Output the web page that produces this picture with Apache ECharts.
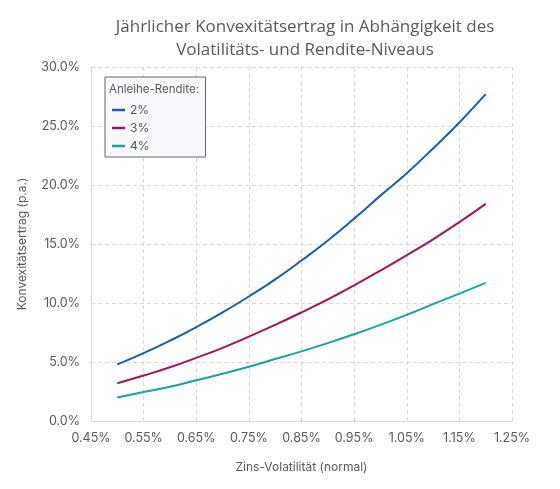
<!DOCTYPE html>
<html>
<head>
<meta charset="utf-8">
<script src="https://cdn.jsdelivr.net/npm/echarts@6/dist/echarts.min.js"></script>
<style>
  html, body { margin: 0; padding: 0; background: #fff; }
  #chart { width: 560px; height: 489px; }
</style>
</head>
<body>
<div id="chart"></div>
<script>
// Zins-Volatilität (normal), in %
const volatility = [0.50, 0.55, 0.60, 0.65, 0.70, 0.75, 0.80, 0.85, 0.90, 0.95, 1.00, 1.05, 1.10, 1.15, 1.20];

// Konvexitätsertrag (p.a.) in %, je Anleihe-Rendite
const seriesNames = ['2%', '3%', '4%'];
const yield2 = [4.8, 5.75, 6.8, 7.95, 9.2, 10.55, 12.0, 13.6, 15.3, 17.15, 19.1, 21.0, 23.1, 25.3, 27.7];
const yield3 = [3.2, 3.85, 4.55, 5.35, 6.2, 7.15, 8.15, 9.2, 10.3, 11.5, 12.75, 14.05, 15.4, 16.85, 18.4];
const yield4 = [2.0, 2.45, 2.9, 3.45, 4.0, 4.6, 5.25, 5.9, 6.6, 7.35, 8.15, 9.0, 9.9, 10.8, 11.7];

const colors = ['#1A5EA6', '#A6125C', '#18A3A3'];
const textColor = '#595959';
const gridColor = '#D9D9D9';

const chart = echarts.init(document.getElementById('chart'), null, { renderer: 'canvas' });

const toPairs = (vals) => volatility.map((x, i) => [x, vals[i]]);

chart.setOption({
  animation: false,
  backgroundColor: '#fff',
  title: [
    {
      text: 'Jährlicher Konvexitätsertrag in Abhängigkeit des\nVolatilitäts- und Rendite-Niveaus',
      left: 300,
      top: 11,
      textAlign: 'center',
      textStyle: {
        fontFamily: 'Open Sans',
        fontSize: 17,
        fontWeight: 'normal',
        color: textColor,
        lineHeight: 23
      }
    },
    {
      text: 'Anleihe-Rendite:',
      left: 109,
      top: 84,
      z: 10,
      padding: 0,
      textStyle: { fontFamily: 'Inter', fontSize: 11.5, fontWeight: 'normal', color: textColor }
    }
  ],
  legend: {
    orient: 'vertical',
    left: 105,
    top: 77,
    padding: [27, 56, 5, 7],
    itemGap: 6,
    itemWidth: 13,
    itemHeight: 2.5,
    icon: 'rect',
    backgroundColor: '#F7F9FC',
    borderColor: '#666',
    borderWidth: 1,
    textStyle: { fontFamily: 'Inter', fontSize: 12, color: textColor },
    data: seriesNames
  },
  grid: { left: 91, right: 48, top: 67, bottom: 68 },
  xAxis: {
    type: 'value',
    min: 0.45,
    max: 1.25,
    interval: 0.1,
    name: 'Zins-Volatilität (normal)',
    nameLocation: 'middle',
    nameGap: 40,
    nameTextStyle: { fontFamily: 'Inter', fontSize: 12, color: textColor },
    axisLine: { show: true, lineStyle: { color: gridColor, width: 1 } },
    axisTick: { show: false },
    axisLabel: {
      fontFamily: 'Inter', fontSize: 12.5, color: textColor, margin: 11,
      formatter: (v) => v.toFixed(2) + '%'
    },
    splitLine: { show: true, lineStyle: { color: gridColor, type: [4, 3] } }
  },
  yAxis: {
    type: 'value',
    min: 0,
    max: 30,
    interval: 5,
    name: 'Konvexitätsertrag (p.a.)',
    nameLocation: 'middle',
    nameGap: 63,
    nameTextStyle: { fontFamily: 'Inter', fontSize: 12, color: textColor },
    axisLine: { show: true, lineStyle: { color: gridColor, width: 1 } },
    axisTick: { show: false },
    axisLabel: {
      fontFamily: 'Inter', fontSize: 12.5, color: textColor, margin: 11,
      formatter: (v) => v.toFixed(1) + '%'
    },
    splitLine: { show: true, lineStyle: { color: gridColor, type: [4, 3] } }
  },
  series: [yield2, yield3, yield4].map((vals, i) => ({
    name: seriesNames[i],
    type: 'line',
    smooth: true,
    showSymbol: false,
    data: toPairs(vals),
    lineStyle: { color: colors[i], width: 2 },
    itemStyle: { color: colors[i] }
  }))
});
</script>
</body>
</html>
